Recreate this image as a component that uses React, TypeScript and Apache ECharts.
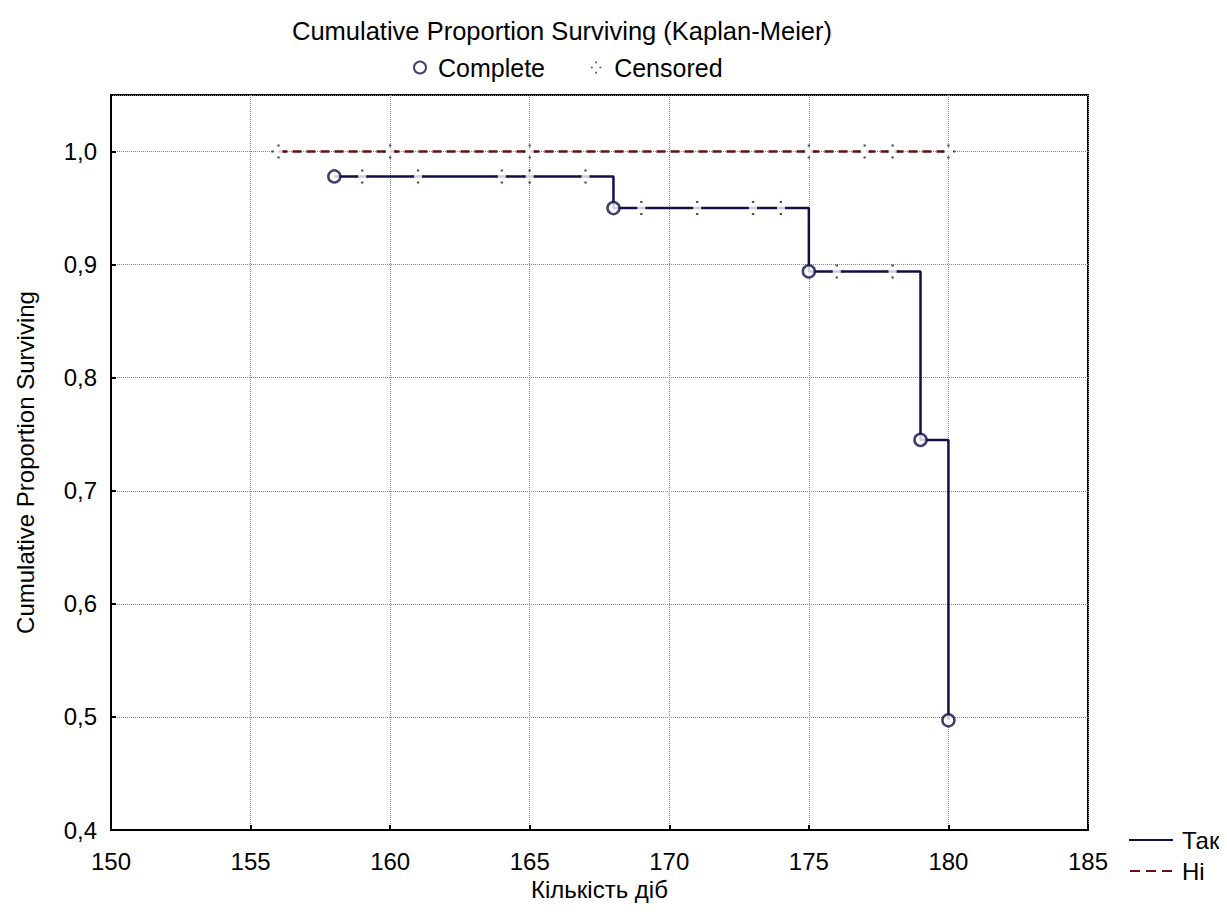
import React, { useEffect, useRef } from "react";
import * as echarts from "echarts";

// Kaplan-Meier step points (complete events) for group "Так"
const takEventX = [158, 168, 175, 179, 180];
const takEventY = [0.978, 0.95, 0.894, 0.745, 0.497];

// Censored observations, group "Так"
const takCensX = [159, 161, 164, 165, 167, 169, 171, 173, 174, 176, 178];
const takCensY = [0.978, 0.978, 0.978, 0.978, 0.978, 0.95, 0.95, 0.95, 0.95, 0.894, 0.894];

// Group "Ні" (all censored, survival stays at 1.0)
const niLineX = [156, 180];
const niLineY = [1.0, 1.0];
const niCensX = [156, 160, 165, 175, 177, 178, 180];
const niCensY = [1.0, 1.0, 1.0, 1.0, 1.0, 1.0, 1.0];

const xTicks = [150, 155, 160, 165, 170, 175, 180, 185];
const yTicks = [0.4, 0.5, 0.6, 0.7, 0.8, 0.9, 1.0];

const FONT = "Liberation Sans, Arial, sans-serif";
const FS = 24;
const NAVY = "#10104a";
const DARKRED = "#6a1010";
const CENS_PATH = "path://M6 0h2v2h-2z M6 12h2v2h-2z M1 6h2v2h-2z M11 6h2v2h-2z";
const SOLID_ICON = "path://M0 0h44v2h-44z";
const DASH_ICON = "path://M0 0h10v2h-10z M16 0h10v2h-10z M32 0h10v2h-10z";

export default function App() {
  const ref = useRef<HTMLDivElement>(null);
  useEffect(() => {
    if (!ref.current) return;
    const chart = echarts.init(ref.current, undefined, { renderer: "svg" });
    const zip = (xs: number[], ys: number[]) => xs.map((x, i) => [x, ys[i]]);
    const allCens = [...zip(takCensX, takCensY), ...zip(niCensX, niCensY)];
    const txt = { fontFamily: FONT, fontSize: FS, color: "#000" };
    chart.setOption({
      animation: false,
      backgroundColor: "#fff",
      title: {
        text: "Cumulative Proportion Surviving (Kaplan-Meier)",
        left: 279,
        top: 5,
        textStyle: { ...txt, fontSize: 25.5, fontWeight: "normal" },
      },
      legend: [
        {
          data: [
            { name: "Complete", icon: "circle" },
            { name: "Censored", icon: CENS_PATH },
          ],
          left: 400,
          top: 42,
          itemWidth: 12,
          itemHeight: 12,
          itemGap: 46,
          textStyle: { ...txt, fontSize: 25, padding: [0, 0, 0, 7] },
        },
        {
          data: [
            { name: "Так", icon: SOLID_ICON },
            { name: "Ні", icon: DASH_ICON },
          ],
          orient: "vertical",
          left: 1116,
          top: 815,
          itemWidth: 44,
          itemHeight: 2,
          itemGap: 7,
          textStyle: { ...txt, padding: [0, 0, 0, 4] },
        },
      ],
      grid: {
        left: 103,
        right: 131,
        top: 87,
        bottom: 84,
        show: true,
        borderColor: "#000",
        borderWidth: 2,
        backgroundColor: "transparent",
        containLabel: false,
        outerBoundsMode: "none",
      },
      xAxis: {
        type: "value",
        min: xTicks[0],
        max: xTicks[xTicks.length - 1],
        interval: 5,
        name: "Кількість діб",
        nameLocation: "middle",
        nameGap: 39,
        nameTextStyle: txt,
        axisLine: { show: true, lineStyle: { color: "#000", width: 2 } },
        axisTick: { show: true, inside: true, length: 5, lineStyle: { color: "#000", width: 2 } },
        axisLabel: { ...txt, margin: 19 },
        splitLine: { show: true, lineStyle: { type: "dotted", color: "#8a8a8a", width: 1 } },
      },
      yAxis: {
        type: "value",
        min: yTicks[0],
        max: 1.05,
        interval: 0.1,
        name: "Cumulative Proportion Surviving",
        nameLocation: "middle",
        nameGap: 74,
        nameTextStyle: txt,
        axisLine: { show: true, lineStyle: { color: "#000", width: 2 } },
        axisTick: { show: true, inside: true, length: 5, lineStyle: { color: "#000", width: 2 } },
        axisLabel: {
          ...txt,
          margin: 14,
          showMaxLabel: false,
          formatter: (v: number) => v.toFixed(1).replace(".", ","),
        },
        splitLine: { show: true, lineStyle: { type: "dotted", color: "#8a8a8a", width: 1 } },
      },
      series: [
        {
          name: "Так",
          type: "line",
          step: "end",
          data: zip(takEventX, takEventY),
          showSymbol: false,
          symbol: "none",
          lineStyle: { color: NAVY, width: 2.5, type: "solid" },
          itemStyle: { color: NAVY },
          z: 2,
        },
        {
          name: "Ні",
          type: "line",
          data: zip(niLineX, niLineY),
          showSymbol: false,
          symbol: "none",
          lineStyle: { color: DARKRED, width: 2.5, type: [9, 5] },
          itemStyle: { color: DARKRED },
          z: 2,
        },
        {
          name: "gap",
          type: "scatter",
          data: allCens,
          symbol: "rect",
          symbolSize: [8, 5],
          itemStyle: { color: "#fff" },
          silent: true,
          z: 3,
        },
        {
          name: "Censored",
          type: "scatter",
          data: allCens,
          symbol: CENS_PATH,
          symbolSize: 14,
          itemStyle: { color: "#222" },
          z: 4,
        },
        {
          name: "Complete",
          type: "scatter",
          data: zip(takEventX, takEventY),
          symbol: "circle",
          symbolSize: 12,
          itemStyle: { color: "#fff", borderColor: NAVY, borderWidth: 2.5 },
          z: 5,
        },
      ],
    });
    return () => chart.dispose();
  }, []);
  return <div ref={ref} style={{ width: 1211, height: 906 }} />;
}
